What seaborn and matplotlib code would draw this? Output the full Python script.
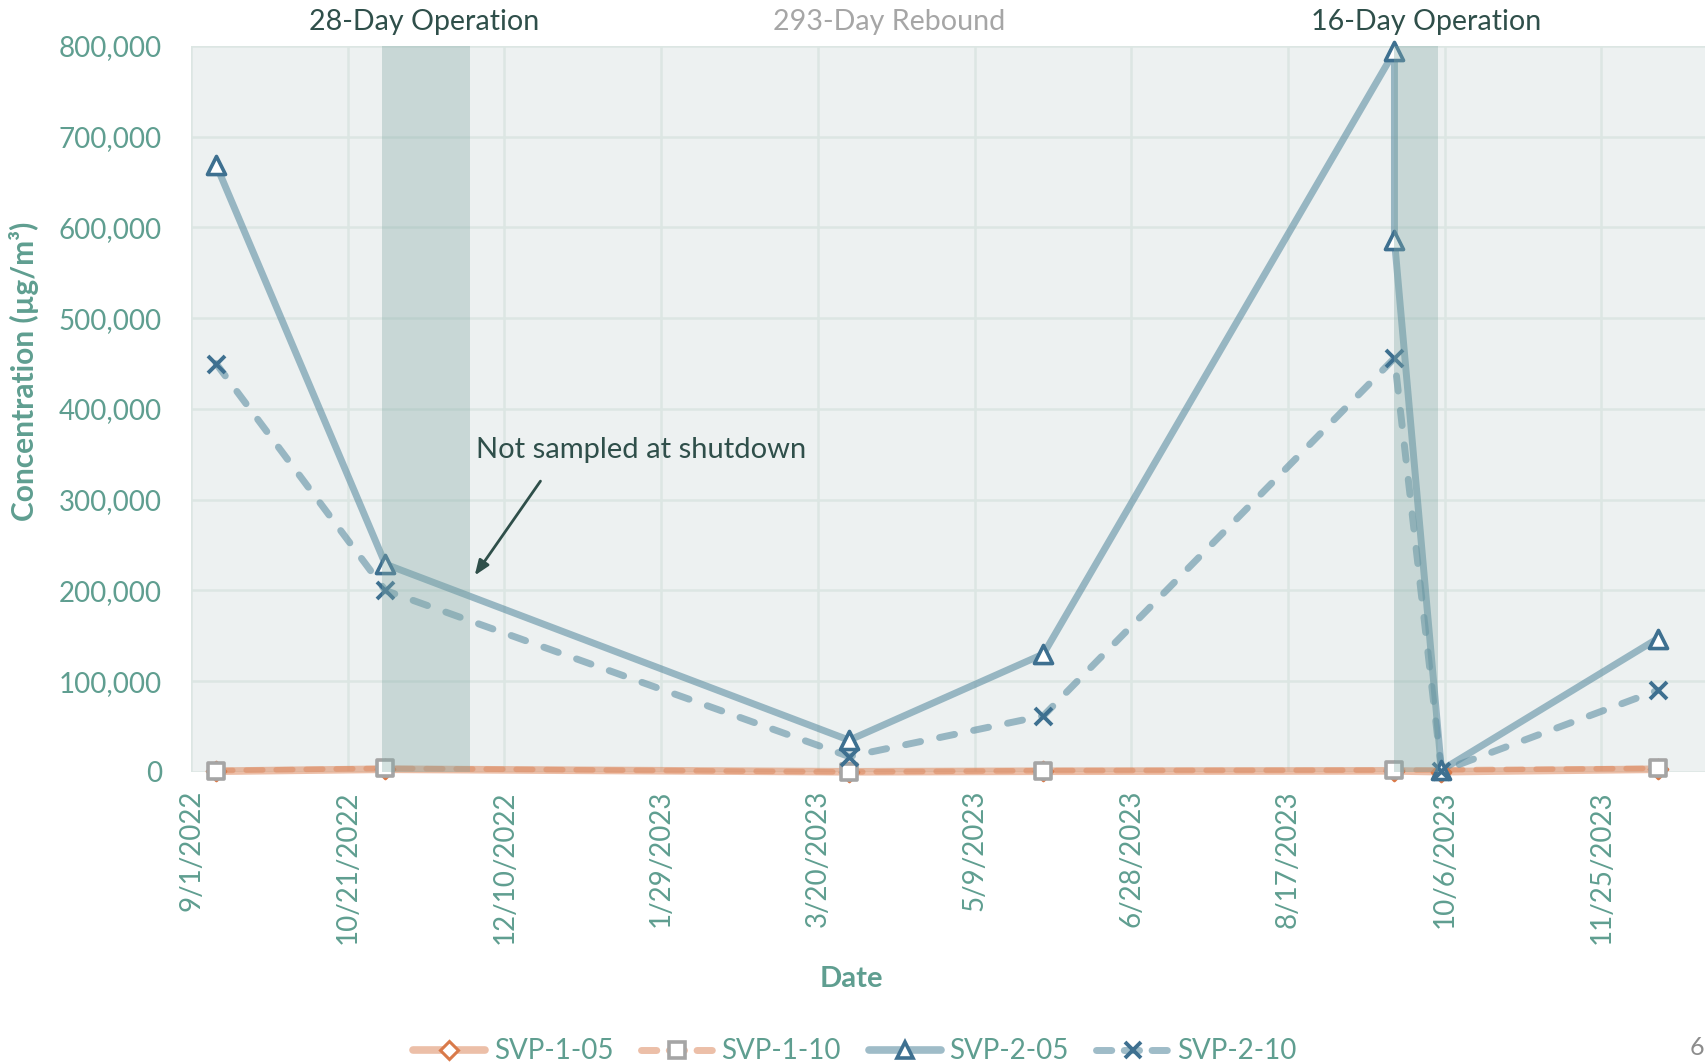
import pandas as pd
import matplotlib.pyplot as plt
from matplotlib.lines import Line2D
import seaborn as sns

# valores
datas_1_05 = ['2022-09-09', '2022-11-02', '2023-03-30', '2023-05-31', '2023-09-20', '2023-10-05', '2023-12-13']
svp_1_05 = [800, 3000, 200, 800, 1200, 300, 3000]
datas_1_10 = ['2022-09-09', '2022-11-02', '2023-03-30', '2023-05-31', '2023-09-20', '2023-12-13']
svp_1_10 = [1500, 4000, 0, 1500, 2000, 4000]
datas_2_05 = ['2022-09-09', '2022-11-02', '2023-03-30', '2023-05-31', '2023-09-20', '2023-09-20', '2023-10-05', '2023-12-13']
svp_2_05 = [669000, 229000, 35000, 130000, 794000, 586000, 2000, 147000]
datas_2_10 = ['2022-09-09', '2022-11-02', '2023-03-30', '2023-05-31', '2023-09-20', '2023-10-05', '2023-12-13']
svp_2_10 = [450000, 200000, 17000, 62000, 456000, 1000, 90000]

tick_datas = ['2022-09-01', '2022-10-21', '2022-12-10', '2023-01-29', '2023-03-20',
              '2023-05-09', '2023-06-28', '2023-08-17', '2023-10-06', '2023-11-25']
tick_labels = ['9/1/2022', '10/21/2022', '12/10/2022', '1/29/2023', '3/20/2023',
               '5/9/2023', '6/28/2023', '8/17/2023', '10/6/2023', '11/25/2023']
operacoes = [('2022-11-01', '2022-11-29'), ('2023-09-20', '2023-10-04')]
rotulos_topo = ['28-Day Operation', '293-Day Rebound', '16-Day Operation']

TEAL = '#5F9E90'
ESCURO = '#2F4F4A'
LARANJA = '#DD8A60'
AZUL = '#5F8FA3'
AZUL_MARCA = '#3E7090'

sns.set_style('white')
plt.rcParams['font.family'] = ['Lato', 'DejaVu Sans']

fig = plt.figure(figsize=(17.06, 10.62), dpi=100)
ax = fig.add_axes([0.112, 0.2731, 0.888, 0.6836])
ax.set_facecolor('#EDF1F1')


def linha(datas, valores, cor, lw, alpha, tracos=None):
    df = pd.DataFrame({'data': pd.to_datetime(datas), 'valor': valores})
    sns.lineplot(data=df, x='data', y='valor', estimator=None, sort=False, color=cor,
                 lw=lw, alpha=alpha, ax=ax, clip_on=False, zorder=3,
                 solid_capstyle='round', solid_joinstyle='round')
    ln = ax.lines[-1]
    if tracos:
        ln.set_dashes(tracos)
        ln.set_dash_capstyle('round')
    return df


def marcas(df, marker, s, face, borda, lw):
    sns.scatterplot(data=df, x='data', y='valor', marker=marker, s=s, color=face,
                    edgecolor=borda, linewidth=lw, ax=ax, clip_on=False, zorder=6)


df105 = linha(datas_1_05, svp_1_05, LARANJA, 5.5, 0.55)
df110 = linha(datas_1_10, svp_1_10, LARANJA, 4, 0.55, (3, 2.4))
df205 = linha(datas_2_05, svp_2_05, AZUL, 5, 0.6)
df210 = linha(datas_2_10, svp_2_10, AZUL, 5, 0.6, (2.2, 2.8))

marcas(df105, 'D', 90, 'white', '#D97A4A', 2.2)
marcas(df110, 's', 120, 'white', '#A5A5A5', 2.6)
marcas(df205, '^', 170, 'white', AZUL_MARCA, 2.6)
sns.scatterplot(data=df210, x='data', y='valor', marker='x', s=150, color=AZUL_MARCA,
                linewidth=2.8, ax=ax, clip_on=False, zorder=6)

# períodos de operação
for ini, fim in operacoes:
    ax.axvspan(pd.Timestamp(ini), pd.Timestamp(fim), color='#83A9A6', alpha=0.35,
               lw=0, zorder=7)

ax.set_ylim(0, 800000)
ax.set_xlim(pd.Timestamp('2022-09-01'), pd.Timestamp('2023-12-28 10:00'))
ax.set_yticks(range(0, 800001, 100000))
ax.set_yticklabels([f'{v:,}' for v in range(0, 800001, 100000)])
ax.set_xticks(pd.to_datetime(tick_datas))
ax.set_xticklabels(tick_labels, rotation=90)
ax.tick_params(axis='y', length=0, pad=21, labelsize=20, labelcolor=TEAL)
ax.tick_params(axis='x', length=0, pad=13, labelsize=20, labelcolor=TEAL)
ax.grid(True, color='#DCE6E3', lw=1.8, zorder=0)
ax.set_axisbelow(True)
for sp in ax.spines.values():
    sp.set_visible(False)
ax.set_xlabel('')
ax.set_ylabel('')

fig.text(0.0141, 0.650, 'Concentration (µg/m³)', rotation=90, ha='center', va='center',
         fontsize=21.5, fontweight='bold', color=TEAL)
fig.text(0.499, 0.078, 'Date', ha='center', va='center', fontsize=21,
         fontweight='bold', color=TEAL)

fig.text(0.2486, 0.979, rotulos_topo[0], ha='center', va='center', fontsize=20.6, color=ESCURO)
fig.text(0.521, 0.979, rotulos_topo[1], ha='center', va='center', fontsize=20.6, color='#A6A6A6')
fig.text(0.836, 0.979, rotulos_topo[2], ha='center', va='center', fontsize=20.6, color=ESCURO)

# anotação
ax.annotate('', xy=(pd.Timestamp('2022-11-30'), 214000),
            xytext=(pd.Timestamp('2022-12-22'), 323000),
            arrowprops=dict(arrowstyle='-|>,head_length=0.9,head_width=0.35',
                            color=ESCURO, lw=2), zorder=8)
ax.text(pd.Timestamp('2022-12-01'), 355000, 'Not sampled at shutdown', fontsize=21,
        color=ESCURO, va='center', ha='left', zorder=8)

# legenda
handles = [
    Line2D([], [], color='#ECBFA8', lw=5.5, marker='D', ms=9, mfc='white', mec='#D97A4A',
           mew=2.2, solid_capstyle='round'),
    Line2D([], [], color='#ECBFA8', lw=5, ls=(0, (2.2, 1.8)), marker='s', ms=11, mfc='white',
           mec='#A5A5A5', mew=2.6, dash_capstyle='round'),
    Line2D([], [], color='#9FBCC8', lw=5.5, marker='^', ms=12, mfc='white', mec=AZUL_MARCA,
           mew=2.6, solid_capstyle='round'),
    Line2D([], [], color='#9FBCC8', lw=5, ls=(0, (2.2, 1.8)), marker='x', ms=12,
           mec=AZUL_MARCA, mew=2.8, dash_capstyle='round'),
]
leg = fig.legend(handles, ['SVP-1-05', 'SVP-1-10', 'SVP-2-05', 'SVP-2-10'], loc='center',
                 bbox_to_anchor=(0.501, 0.010), ncol=4, frameon=False, fontsize=20,
                 handlelength=2.6, handletextpad=0.3, columnspacing=1.0)
for t in leg.get_texts():
    t.set_color(TEAL)

# número da página
fig.text(0.999, 0.003, '6', fontsize=18, color='#8C8C8C', ha='right', va='bottom')

plt.savefig('out.png', format='png', dpi=100)
